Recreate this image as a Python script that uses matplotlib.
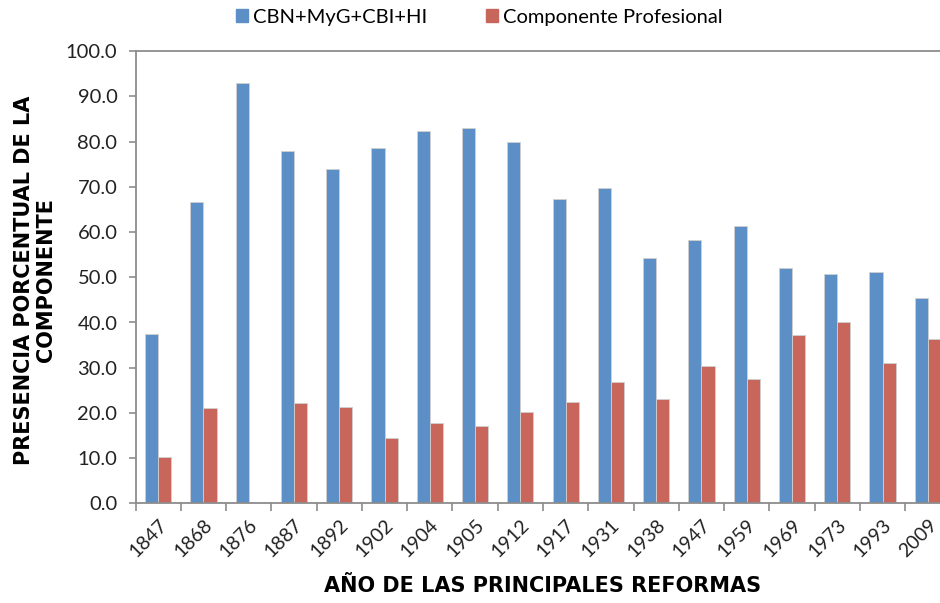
import numpy as np
import matplotlib
matplotlib.use('Agg')
import matplotlib.pyplot as plt
import matplotlib.patches as mpatches
import matplotlib.transforms as mtransforms

#data
years = ['1847', '1868', '1876', '1887', '1892', '1902', '1904', '1905', '1912',
         '1917', '1931', '1938', '1947', '1959', '1969', '1973', '1993', '2009']
basicas = [37.5, 66.7, 93.0, 77.9, 73.9, 78.5, 82.4, 83.0, 80.0,
           67.3, 69.7, 54.3, 58.2, 61.4, 52.0, 50.8, 51.1, 45.5]
profesional = [10.2, 21.0, 0.0, 22.2, 21.3, 14.5, 17.7, 17.2, 20.1,
               22.5, 26.9, 23.0, 30.4, 27.4, 37.2, 40.2, 31.0, 36.3]
series_names = ['CBN+MyG+CBI+HI', 'Componente Profesional']

blue = '#5B8FC6'
red = '#C9665C'
grey = '#8c8c8c'

plt.rcParams['font.family'] = ['Lato', 'DejaVu Sans']

fig = plt.figure(figsize=(9.4, 6.03), dpi=100)
# axes runs past the right edge, like the original
ax = fig.add_axes([135.5 / 940, 1 - 503.3 / 603, 815 / 940, 452 / 603])

x = np.arange(len(years))
w = 0.29
ax.bar(x - w / 2, basicas, w, color=blue, edgecolor='#d0d0d0', linewidth=0.6)
ax.bar(x + w / 2, profesional, w, color=red, edgecolor='#d0d0d0', linewidth=0.6)

ax.set_xlim(-0.5, len(years) - 0.5)
ax.set_ylim(0, 100)
ax.set_yticks(np.arange(0, 101, 10))
ax.set_yticklabels(['%.1f' % v for v in np.arange(0, 101, 10)], fontsize=14.5, color='#222222')

# boundary ticks (no labels), year labels at centres
ax.set_xticks(np.arange(-0.5, len(years), 1))
ax.set_xticklabels([])
ax.set_xticks(x, minor=True)
ax.set_xticklabels(years, minor=True, rotation=45, ha='right', rotation_mode='anchor',
                   fontsize=14, color='#222222')
shift = mtransforms.ScaledTranslation(-4 / 100, 0, fig.dpi_scale_trans)
for lab in ax.get_xticklabels(minor=True):
    lab.set_transform(lab.get_transform() + shift)
ax.tick_params(axis='x', which='minor', length=0, pad=9)
ax.tick_params(axis='x', which='major', length=6, width=1.2, color=grey, direction='out')
ax.tick_params(axis='y', length=5, width=1.2, color=grey, direction='out', pad=8)

for s in ax.spines.values():
    s.set_color(grey)
    s.set_linewidth(1.3)

ax.set_xlabel('AÑO DE LAS PRINCIPALES REFORMAS', fontsize=15, fontweight='bold',
              family='DejaVu Sans', labelpad=12)
fig.text(0.037, 0.535, 'PRESENCIA PORCENTUAL DE LA\nCOMPONENTE', rotation=90,
         ha='center', va='center', fontsize=15, fontweight='bold', family='DejaVu Sans',
         linespacing=1.15)

handles = [mpatches.Patch(color=blue), mpatches.Patch(color=red)]
fig.legend(handles, series_names, loc='center', bbox_to_anchor=(0.51, 0.971), ncol=2,
           frameon=False, fontsize=14.5, handlelength=0.6, handleheight=0.6,
           handletextpad=0.25, columnspacing=2.9)

fig.savefig('out.png', dpi=100)
